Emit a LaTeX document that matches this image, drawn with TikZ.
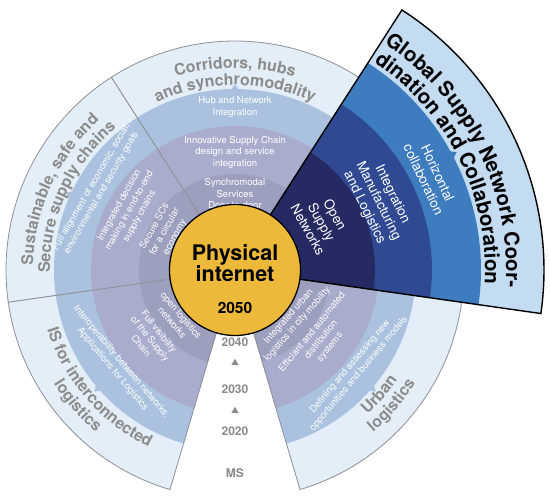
\documentclass[tikz,border=0pt]{standalone}
\usepackage{fontspec}
\setmainfont{TeX Gyre Heros}
\usetikzlibrary{positioning, decorations.text, shapes.geometric}

\definecolor{bandfour}{HTML}{E3EEF8}
\definecolor{bandthree}{HTML}{AAC2DF}
\definecolor{bandtwo}{HTML}{A9ACCD}
\definecolor{bandone}{HTML}{9D9FBF}
\definecolor{globfour}{HTML}{C4DCF2}
\definecolor{globthree}{HTML}{3E7CC0}
\definecolor{globtwo}{HTML}{2F4A93}
\definecolor{globone}{HTML}{252A63}
\definecolor{pigold}{HTML}{EDB93B}
\definecolor{titlegray}{HTML}{8C8C8C}
\definecolor{rimgray}{HTML}{8E9096}

\begin{document}
\begin{tikzpicture}[
        x=1pt, y=1pt,
        rim/.style={draw=rimgray, line width=0.8pt},
        globrim/.style={draw=black, line width=1.4pt, line join=miter},
        inner/.style={text=white, align=center, inner sep=0pt, font=\fontsize{9.5}{11.5}\selectfont},
        globtext/.style={text=white, align=center, inner sep=0pt, font=\fontsize{13.5}{15.5}\selectfont},
        year/.style={text=titlegray, inner sep=0pt, font=\fontsize{12}{12}\selectfont\bfseries},
        steptri/.style={regular polygon, regular polygon sides=3, fill=titlegray, minimum size=8.5pt, inner sep=0pt},
        arctitle/.style={decorate, decoration={text along path, text align=center, text color=titlegray,
            text={|\fontsize{16}{16}\selectfont\bfseries|#1}}},
        globtitle/.style={decorate, decoration={text along path, text align=center,
            text={|\fontsize{20.5}{20.5}\selectfont\bfseries|#1}}},
    ]
        \fill[white] (-235,-229) rectangle (315,270);
        \useasboundingbox (-235,-229) rectangle (315,270);

        % Draw the rings of the four plain sectors
        \foreach \from/\to in {57.3/122.7, 122.7/188.1, 188.1/253.5, 286.5/351.9} {
            \foreach \r/\col in {229/bandfour, 181/bandthree, 144/bandtwo, 96/bandone}
                \fill[\col] (0,0) -- (\from:\r) arc[start angle=\from, end angle=\to, radius=\r] -- cycle;
            \draw[rim] (\from:65) -- (\from:229) arc[start angle=\from, end angle=\to, radius=229] -- (\to:65);
        }
        % small tabs on the middle band
        \foreach \a in {90, 155.4, 220.8, 319.2}
            \fill[bandthree] ({\a-1.3}:180) -- (\a:186) -- ({\a+1.3}:180) -- cycle;

        % Draw the highlighted sector
        \foreach \r/\col in {309/globfour, 246/globthree, 197/globtwo, 140/globone}
            \fill[\col] (0,0) -- (-8.1:\r) arc[start angle=-8.1, end angle=57.3, radius=\r] -- cycle;
        \fill[globthree] (27:245) -- (28:251) -- (29:245) -- cycle;
        \draw[globrim] (-8.1:60) -- (-8.1:309) arc[start angle=-8.1, end angle=57.3, radius=309] -- (57.3:60);

        % Sector titles along the outer band
        \path[arctitle={Corridors, hubs}] (122.7:202) arc[start angle=122.7, end angle=57.3, radius=202];
        \path[arctitle={and synchromodality}] (122.7:185) arc[start angle=122.7, end angle=57.3, radius=185];
        \path[arctitle={Sustainable, safe and}] (188.1:202) arc[start angle=188.1, end angle=122.7, radius=202];
        \path[arctitle={Secure supply chains}] (188.1:185) arc[start angle=188.1, end angle=122.7, radius=185];
        \path[arctitle={IS for interconnected}] (188.1:197) arc[start angle=188.1, end angle=253.5, radius=197];
        \path[arctitle={logistics}] (188.1:214) arc[start angle=188.1, end angle=253.5, radius=214];
        \path[arctitle={Urban}] (286.5:196) arc[start angle=286.5, end angle=351.9, radius=196];
        \path[arctitle={logistics}] (286.5:213) arc[start angle=286.5, end angle=351.9, radius=213];
        \path[globtitle={Global Supply Network Coor-}] (59:271) arc[start angle=59, end angle=-6, radius=271];
        \path[globtitle={dination and Collaboration}] (59:250) arc[start angle=59, end angle=-6, radius=250];

        % Corridors, hubs and synchromodality
        \node[inner] (hub) at (90:163) {Hub and Network\\Integration};
        \node[inner] (innov) at (90:118) {Innovative Supply Chain\\design and service\\integration};
        \node[inner] (synchro) at (90:76) {Synchromodal\\Services\\Door-to-door};

        % Sustainable, safe and secure supply chains
        \node[inner, rotate=60] (goals) at (150:160) {Full alignment of economic, social,\\environmental and security goals};
        \node[inner, rotate=61] (decision) at (150.7:121) {Integrated decision\\making in end-to-end\\supply chains};
        \node[inner, rotate=61.5] (secure) at (151.5:80) {Secure SCs\\for a circular\\economy};

        % IS for interconnected logistics
        \node[inner, rotate=-50] (interop) at (219:152) {Interoperability between networks.\\Applications for Logistics};
        \node[inner, rotate=-51] (visibility) at (219:109) {Full visibility\\of the Supply\\Chain};
        \node[inner, rotate=-50] (openlog) at (220:76) {open logistics\\networks};

        % Urban logistics
        \node[inner, rotate=50] (defining) at (320:156) {Defining and assessing new\\opportunities and business models};
        \node[inner, rotate=51] (efficient) at (321:111) {Efficiant and automated\\distribution\\systems};
        \node[inner, rotate=49] (urbanint) at (319:77) {Integrated urban\\logistics in city mobility};

        % Global supply network coordination and collaboration
        \node[globtext, rotate=-61] (opensn) at (28.9:99) {Open\\Supply\\Networks};
        \node[globtext, rotate=-64] (intml) at (25.7:159) {Integration\\Manufacturing\\and Logistics};
        \node[globtext, rotate=-65] (horiz) at (25.6:217) {Horizontal\\collaboration};

        % Draw the core
        \node[circle, fill=pigold, draw=black, line width=1.3pt, minimum size=131pt, inner sep=0pt] (core) at (0,0) {};
        \node[font=\fontsize{21.5}{20.5}\selectfont\bfseries, align=center, inner sep=0pt] (physint) at (0,7) {Physical\\internet};
        \node[font=\fontsize{15.5}{15.5}\selectfont\bfseries, inner sep=0pt] (goalyear) at (0,-38) {2050};

        % Draw the timeline in the gap
        \foreach \yr/\y in {2040/-72, 2030/-119, 2020/-161, MS/-203}
            \node[year] (Y-\yr) at (0,\y) {\yr};
        \foreach \n/\y in {1/-93, 2/-141}
            \node[steptri] (T-\n) at (0,\y) {};
\end{tikzpicture}
\end{document}
